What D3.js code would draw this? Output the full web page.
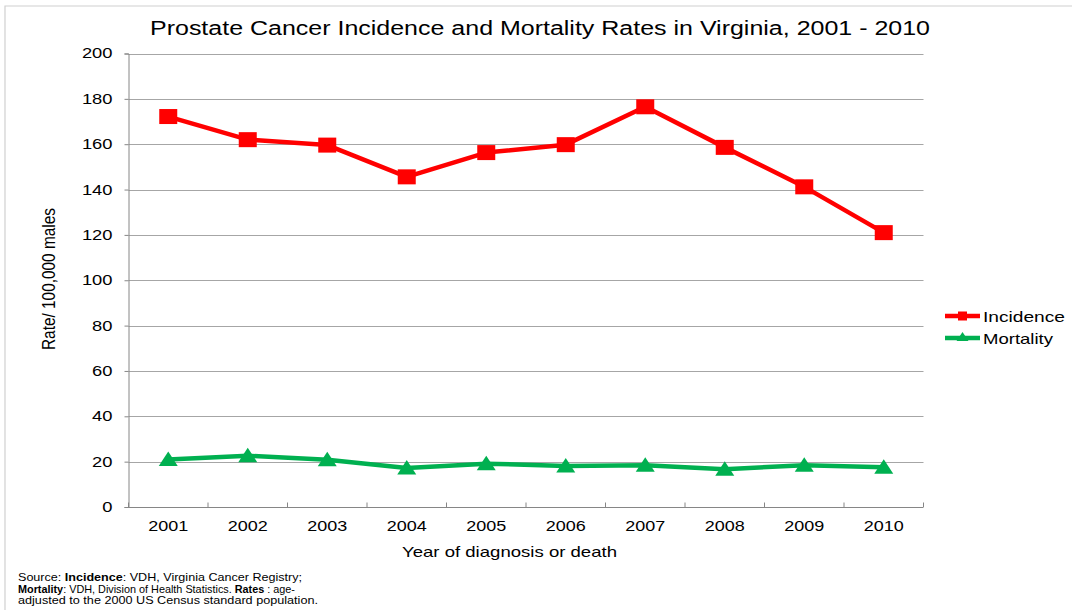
<!DOCTYPE html>
<html><head><meta charset="utf-8">
<script src="https://cdn.jsdelivr.net/npm/d3@7"></script>
<style>
body{margin:0;background:#fff;}
svg{display:block;font-family:"Liberation Sans",Arial,sans-serif;}
</style></head>
<body>
<svg id="chart" width="1072" height="610"></svg>
<script>
const years = ["2001","2002","2003","2004","2005","2006","2007","2008","2009","2010"];
const incidence = [172.2, 162.0, 159.6, 145.6, 156.3, 159.8, 176.5, 158.6, 141.2, 121.0];
const mortality = [20.9, 22.6, 20.8, 17.2, 19.1, 18.1, 18.4, 16.7, 18.4, 17.5];
const yTicks = [0, 20, 40, 60, 80, 100, 120, 140, 160, 180, 200];
const seriesNames = ["Incidence", "Mortality"];
const seriesColors = ["#FF0000", "#00B050"];
const titleText = "Prostate Cancer Incidence and Mortality Rates in Virginia, 2001 - 2010";
const yTitle = "Rate/ 100,000 males";
const xTitle = "Year of diagnosis or death";
const sourceLines = [
  [["Source: ", false], ["Incidence", true], [": VDH, Virginia Cancer Registry;", false]],
  [["Mortality", true], [": VDH, Division of Health Statistics.  ", false], ["Rates", true], [" : age-", false]],
  [["adjusted to the 2000 US Census standard population.", false]]
];

const svg = d3.select("#chart");
const L = 128.5, R = 923.5, T = 53.5, B = 507;

// outer border
svg.append("path").attr("d", "M5,610 L5,6 L1072,6").attr("fill", "none").attr("stroke", "#d0d0d0").attr("stroke-width", 1.2);

const x = d3.scaleBand().domain(years).range([L, R]);
const y = d3.scaleLinear().domain([0, 200]).range([B, T]);

// gridlines
svg.append("g").selectAll("line").data(yTicks.filter(d => d > 0)).join("line")
  .attr("x1", L).attr("x2", R).attr("y1", d => Math.round(y(d)) + 0.5).attr("y2", d => Math.round(y(d)) + 0.5)
  .attr("stroke", "#a6a6a6").attr("stroke-width", 1);

// y axis
const yAxis = d3.axisLeft(y).tickValues(yTicks).tickSize(4).tickPadding(12).tickFormat(d3.format("d"));
const gy = svg.append("g").attr("transform", `translate(${L},0)`).call(yAxis);
gy.select(".domain").attr("stroke", "#868686");
gy.selectAll(".tick line").attr("stroke", "#868686");
gy.selectAll(".tick text").attr("font-size", 14).attr("fill", "#000")
  .attr("font-family", "Liberation Sans, Arial, sans-serif")
  .each(function(d){ const s = String(d); d3.select(this).attr("textLength", s.length * 10.2).attr("lengthAdjust", "spacingAndGlyphs"); });

// x axis
const xAxis = d3.axisBottom(x).tickSize(0).tickPadding(14);
const gx = svg.append("g").attr("transform", `translate(0,${B})`).call(xAxis);
gx.select(".domain").attr("stroke", "#868686").attr("d", `M${L},0.5H${R}`);
gx.selectAll(".tick text").attr("font-size", 14).attr("fill", "#000")
  .attr("font-family", "Liberation Sans, Arial, sans-serif")
  .attr("textLength", 40).attr("lengthAdjust", "spacingAndGlyphs");
// category boundary ticks (pointing up)
const bounds = years.map(d => x(d)).concat([R]);
svg.append("g").selectAll("line").data(bounds).join("line")
  .attr("x1", d => d).attr("x2", d => d).attr("y1", B - 4.5).attr("y2", B)
  .attr("stroke", "#868686").attr("stroke-width", 1);

const cx = d => x(d) + x.bandwidth() / 2;
const line = d3.line().x(d => cx(d[0])).y(d => y(d[1]));

const seriesData = [incidence, mortality];
seriesData.forEach((vals, i) => {
  const pts = years.map((yr, j) => [yr, vals[j]]);
  svg.append("path").datum(pts).attr("d", line).attr("fill", "none")
    .attr("stroke", seriesColors[i]).attr("stroke-width", 4.5).attr("stroke-linejoin", "round");
  const g = svg.append("g");
  if (i === 0) {
    g.selectAll("rect").data(pts).join("rect")
      .attr("x", d => cx(d[0]) - 9).attr("y", d => y(d[1]) - 7.5)
      .attr("width", 18).attr("height", 15).attr("fill", seriesColors[i]);
  } else {
    g.selectAll("path").data(pts).join("path")
      .attr("d", d => { const X = cx(d[0]), Y = y(d[1]); return `M${X},${Y-8}L${X+9.5},${Y+6.5}L${X-9.5},${Y+6.5}Z`; })
      .attr("fill", seriesColors[i]);
  }
});

// title
svg.append("text").attr("x", 150).attr("y", 35).attr("font-size", 20).attr("fill", "#000")
  .attr("textLength", 780).attr("lengthAdjust", "spacingAndGlyphs").text(titleText);

// y title
svg.append("text").attr("transform", "translate(55,279) rotate(-90)").attr("text-anchor", "middle")
  .attr("font-size", 18).attr("fill", "#000")
  .attr("textLength", 142).attr("lengthAdjust", "spacingAndGlyphs").text(yTitle);

// x title
svg.append("text").attr("x", 402).attr("y", 557).attr("font-size", 15).attr("fill", "#000")
  .attr("textLength", 215).attr("lengthAdjust", "spacingAndGlyphs").text(xTitle);

// legend
const lg = svg.append("g");
seriesNames.forEach((n, i) => {
  const ly = 316 + i * 22;
  lg.append("line").attr("x1", 945).attr("x2", 980).attr("y1", ly).attr("y2", ly)
    .attr("stroke", seriesColors[i]).attr("stroke-width", 4.5);
  if (i === 0) lg.append("rect").attr("x", 958).attr("y", ly - 4.5).attr("width", 9).attr("height", 9).attr("fill", seriesColors[i]);
  else lg.append("path").attr("d", `M962.5,${ly-6}L968.5,${ly+3}L956.5,${ly+3}Z`).attr("fill", seriesColors[i]);
  lg.append("text").attr("x", 983).attr("y", ly + 6).attr("font-size", 15).attr("fill", "#000")
    .attr("textLength", i === 0 ? 82 : 70).attr("lengthAdjust", "spacingAndGlyphs").text(n);
});

// source note
const lineY = [581, 592.5, 603.5];
const lineW = [284, 277, 300];
sourceLines.forEach((parts, i) => {
  const t = svg.append("text").attr("x", 18).attr("y", lineY[i]).attr("font-size", 10.5).attr("fill", "#000")
    .attr("textLength", lineW[i]).attr("lengthAdjust", "spacingAndGlyphs");
  parts.forEach(p => t.append("tspan").attr("font-weight", p[1] ? "bold" : "normal").text(p[0]));
});
</script>
</body></html>
